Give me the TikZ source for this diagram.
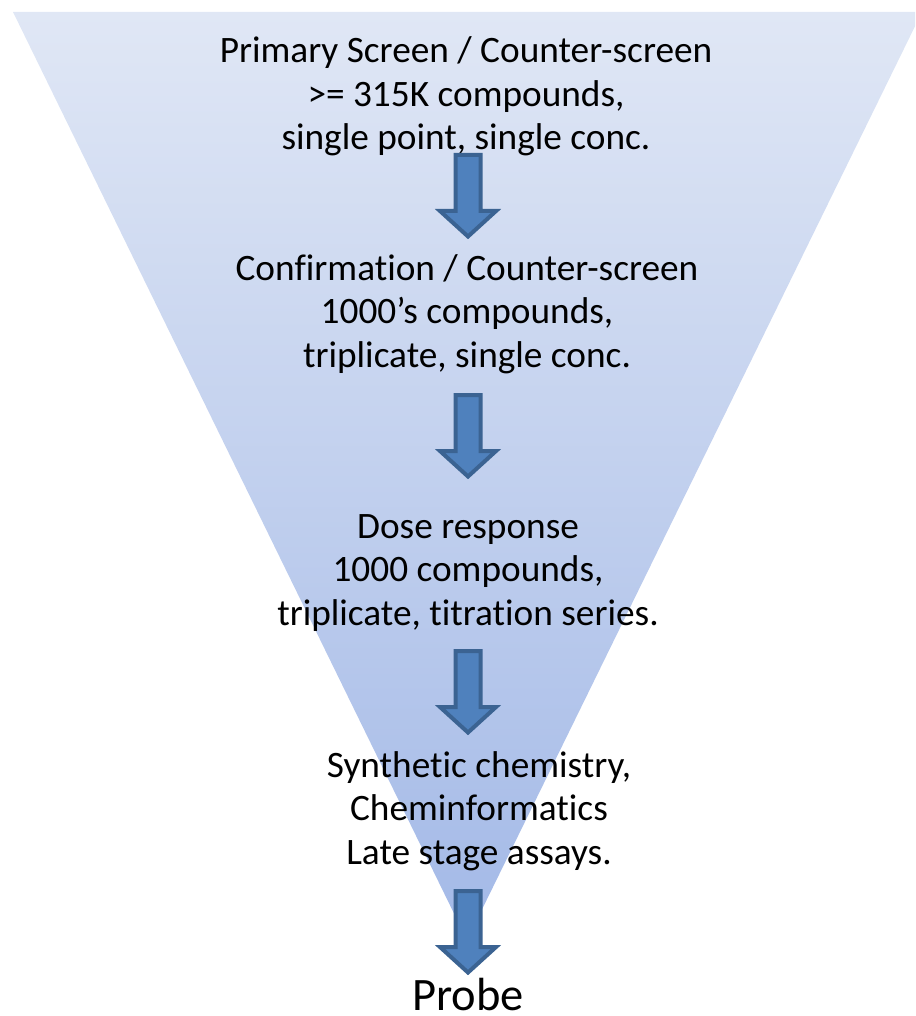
\documentclass[tikz,border=0pt]{standalone}
\usepackage{fontspec}
\setmainfont{Carlito}[RawFeature={-liga;-clig;-calt;-dlig}]
\begin{document}
\begin{tikzpicture}[x=1pt,y=-1pt,
  blockarr/.style={fill=arrfill,draw=arrline,line width=4pt,line join=miter},
  stagetext/.style={align=center,inner sep=0pt,anchor=base,font=\fontsize{37.3}{43.5}\selectfont},
  probetext/.style={inner sep=0pt,anchor=base,font=\fontsize{46.5}{52}\selectfont}]
\definecolor{arrfill}{HTML}{4F81BD}
\definecolor{arrline}{HTML}{3B6392}
\definecolor{funtop}{HTML}{E0E7F5}
\definecolor{funbot}{HTML}{A3B9E7}
\useasboundingbox (0,0) rectangle (915,1016);
\clip (0,0) rectangle (915,1016);
\shade[top color=funtop,bottom color=funbot] (13,12) -- (922,12) -- (467,940) -- cycle;
\node[stagetext] (s1) at (466,150) {Primary Screen / Counter-screen\\>= 315K compounds,\\single point, single conc.};
\node[stagetext] (s2) at (467,367) {Confirmation / Counter-screen\\1000’s compounds,\\triplicate, single conc.};
\node[stagetext] (s3) at (468,625) {Dose response\\1000 compounds,\\triplicate, titration series.};
\node[stagetext] (s4) at (479,864) {Synthetic chemistry,\\Cheminformatics\\Late stage assays.};
\node[probetext] (pr) at (468,1010) {Probe};
\foreach \ty in {153,393,649,889}{
  \draw[blockarr,shift={(468,\ty)}] (-12.5,2) -- (12.5,2) -- (12.5,58) -- (28,58) -- (0,83.5) -- (-28,58) -- (-12.5,58) -- cycle;
}
\end{tikzpicture}
\end{document}
